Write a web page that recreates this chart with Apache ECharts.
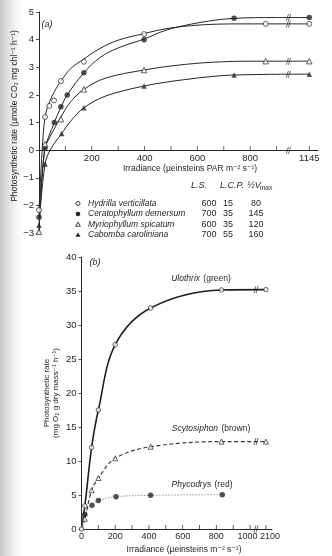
<!DOCTYPE html>
<html><head><meta charset="utf-8">
<script src="https://cdn.jsdelivr.net/npm/echarts@6/dist/echarts.min.js"></script>
<style>html,body{margin:0;padding:0;background:#fff}#c{width:332px;height:556px}</style>
</head><body><div id="c"></div><script>
const FONT = '"Liberation Sans","DejaVu Sans",Arial,sans-serif';
const INK = '#262626';

// ---------- Panel (a) data ----------
const aXTickValues = [100,200,300,400,500,600,700,800,900,1145];
const aXLabelValues = [200,400,600,800,1145];

const hydX = [0,23,39,57,83,170,398,859,1145];
const hydY = [-2.17,1.2,1.6,1.8,2.5,3.2,4.2,4.57,4.57];
const cerX = [0,23,58,83,107,170,398,739,1145];
const cerY = [-2.43,0.08,1.0,1.57,2.0,2.8,4.0,4.77,4.8];
const myrX = [0,23,83,170,398,859,1145];
const myrY = [-2.96,0.22,1.12,2.2,2.9,3.22,3.22];
const cabX = [0,23,86,170,398,739,1145];
const cabY = [-2.72,-0.5,0.6,1.53,2.32,2.72,2.75];

// fitted curves
const hydCurveX = [0,12,23,40,60,83,120,170,231,300,398,484,610,760,859,1145];
const hydCurveY = [-2.17,0,1.2,1.75,2.15,2.5,2.95,3.3,3.68,3.98,4.22,4.4,4.53,4.57,4.57,4.57];
const cerCurveX = [0,22,58,83,107,170,231,300,398,484,610,739,900,1145];
const cerCurveY = [-2.43,0,1.0,1.55,2.0,2.8,3.35,3.7,4.02,4.35,4.62,4.77,4.8,4.8];
const myrCurveX = [0,21,40,83,120,170,250,398,550,700,859,1145];
const myrCurveY = [-2.96,0,0.45,1.2,1.75,2.2,2.6,2.9,3.1,3.2,3.22,3.22];
const cabCurveX = [0,23,45,86,120,170,250,398,550,739,1145];
const cabCurveY = [-2.72,-0.5,0.05,0.6,1.05,1.53,1.95,2.32,2.55,2.72,2.75];

const aBreakYs = [4.57,4.8,3.22,2.75];

// legend table
const species = ['Hydrilla verticillata','Ceratophyllum demersum','Myriophyllum spicatum','Cabomba caroliniana'];
const tableLS = [600,700,600,700];
const tableLCP = [15,35,35,55];
const tableVmax = [80,145,120,160];

// ---------- Panel (b) data ----------
const bXTickValues = [100,200,300,400,500,600,700,800,900,1000,2100];
const bXLabelValues = [0,200,400,600,800,1000,2100];
const bX = [0,20,60,100,200,410,830,2100];
const ulothrixY = [0,3.4,12,17.5,27.1,32.5,35.15,35.2];
const scytoY = [0,1.5,5.7,7.5,10.4,12.1,12.85,12.85];
const phycoX = [0,20,62,100,205,410,835];
const phycoY = [0,2.15,3.5,4.2,4.75,4.95,5.05];
const bBreakYs = [35.2,12.85];

// ---------- axis breaks (display transforms) ----------
const aBrk = {at:950, k:74/195};
const bBrk = {at:1030, k:64/1070};
const fwd = (b,x) => x <= b.at ? x : b.at + (x - b.at) * b.k;
const pts = (b,xs,ys) => xs.map((x,i)=>[fwd(b,x), ys[i]]);

const openStyle = {color:'#fff', borderColor:INK, borderWidth:0.9};
const fillStyle = {color:INK, borderColor:INK, borderWidth:0};
const minus = v => v < 0 ? '\u2212' + Math.abs(v) : String(v);
const slash = 'path://M0,10 L3,0 L4.2,0 L1.2,10 Z M3,10 L6,0 L7.2,0 L4.2,10 Z';

function curve(xs, ys, b, lineStyle, xi, yi) {
  return {type:'line', xAxisIndex:xi, yAxisIndex:yi, data:pts(b,xs,ys), smooth:0.35,
    showSymbol:false, silent:true, lineStyle:Object.assign({color:INK,width:1}, lineStyle), z:2};
}
function points(xs, ys, b, symbol, size, style, xi, yi) {
  return {type:'scatter', xAxisIndex:xi, yAxisIndex:yi, data:pts(b,xs,ys), symbol, symbolSize:size,
    itemStyle:style, silent:true, z:5};
}
// x-axis ticks, drawn on the zero line pointing up
function tickSeries(vals, b, xi, yi) {
  return {type:'scatter', xAxisIndex:xi, yAxisIndex:yi, silent:true, symbol:'rect',
    symbolSize:[0.9,4], symbolOffset:[0,-2], itemStyle:{color:INK}, z:4,
    data:vals.map(v=>[fwd(b,v),0])};
}

const txt = (x,y,text,opt={}) => ({type:'text', x, y, rotation:opt.rot||0, silent:true,
  style:Object.assign({text, font:(opt.italic?'italic ':'') + (opt.size||9)+'px '+FONT, fill:INK,
    align:opt.align||'center', verticalAlign:'middle'}, opt.style||{})});
function label2(cx, y, it, rm) {
  return {type:'text', x:cx, y, silent:true, style:{
    text:'{i|'+it+'} {r|'+rm+'}', align:'center', verticalAlign:'middle',
    rich:{i:{font:'italic 8.5px '+FONT, fill:INK}, r:{font:'8.5px '+FONT, fill:INK}}}};
}

const graphic = [
  {type:'rect', shape:{x:0,y:0,width:26,height:556}, silent:true, z:-10,
   style:{fill:new echarts.graphic.LinearGradient(0,0,1,0,[{offset:0,color:'rgba(185,185,185,0.85)'},{offset:0.5,color:'rgba(215,215,215,0.45)'},{offset:1,color:'rgba(255,255,255,0)'}])}},
  txt(47,24,'(a)',{italic:true,size:9}),
  txt(190,169,'Irradiance (\u00b5einsteins PAR m\u207b\u00b2 s\u207b\u00b9)',{size:8.5}),
  txt(15,116,'Photosynthetic rate (\u00b5mole CO\u2082 mg chl\u207b\u00b9 h\u207b\u00b9)',{size:8.5,rot:Math.PI/2}),
  txt(199,185,'L.S.',{italic:true,size:9}),
  txt(232,185,'L.C.P.',{italic:true,size:9}),
  txt(254,185,'\u00bdV',{italic:true,size:9}),
  txt(266,188,'max',{italic:true,size:6.5}),
  txt(95,262,'(b)',{italic:true,size:9}),
  txt(184,550,'Irradiance (\u00b5einsteins m\u207b\u00b2 s\u207b\u00b9)',{size:8.5}),
  txt(51,393,'Photosynthetic rate\n(mg O\u2082 g dry mass\u207b\u00b9 h\u207b\u00b9)',{size:8,rot:Math.PI/2,style:{lineHeight:9}}),
  label2(201,279,'Ulothrix','(green)'),
  label2(211,429,'Scytosiphon','(brown)'),
  label2(202,485,'Phycodrys','(red)')
];

const rowY = [203.5,214,224.5,235];
const keyShapes = [
  {type:'circle', shape:{cx:0,cy:0,r:2}, style:{fill:'#fff',stroke:INK,lineWidth:0.9}},
  {type:'circle', shape:{cx:0,cy:0,r:2.3}, style:{fill:INK}},
  {type:'polygon', shape:{points:[[0,-2.4],[2.3,1.7],[-2.3,1.7]]}, style:{fill:'#fff',stroke:INK,lineWidth:0.9}},
  {type:'polygon', shape:{points:[[0,-2.6],[2.5,1.8],[-2.5,1.8]]}, style:{fill:INK}}
];
species.forEach((s,i)=>{
  graphic.push(Object.assign({x:78,y:rowY[i],silent:true}, keyShapes[i]));
  graphic.push(txt(88,rowY[i],s,{italic:true,size:8.5,align:'left'}));
  graphic.push(txt(209,rowY[i],String(tableLS[i]),{size:9}));
  graphic.push(txt(228,rowY[i],String(tableLCP[i]),{size:9}));
  graphic.push(txt(256,rowY[i],String(tableVmax[i]),{size:9}));
});

const axisTxt = {color:INK, fontSize:9.5, fontFamily:FONT};

const option = {
  animation:false,
  backgroundColor:'#fff',
  grid:[
    {left:39, right:14, top:12, bottom:323, containLabel:false},
    {left:81.5, right:60, top:257, bottom:27, containLabel:false}
  ],
  xAxis:[
    {gridIndex:0, type:'value', min:0, max:1057,
     axisLine:{onZero:true, lineStyle:{color:INK,width:1}},
     axisTick:{show:false}, axisLabel:{show:false}, splitLine:{show:false}},
    {gridIndex:1, type:'value', min:0, max:1130,
     axisLine:{onZero:true, lineStyle:{color:INK,width:1}},
     axisTick:{show:false}, axisLabel:{show:false}, splitLine:{show:false}}
  ],
  yAxis:[
    {gridIndex:0, type:'value', min:-3, max:5, interval:1,
     axisLine:{show:true, onZero:false, lineStyle:{color:INK,width:1}},
     axisTick:{show:true, length:3, lineStyle:{color:INK,width:0.8}},
     axisLabel:Object.assign({margin:5, formatter:minus}, axisTxt),
     splitLine:{show:false}},
    {gridIndex:1, type:'value', min:0, max:40, interval:5,
     axisLine:{show:true, onZero:false, lineStyle:{color:INK,width:1}},
     axisTick:{show:true, length:3, lineStyle:{color:INK,width:0.8}},
     axisLabel:Object.assign({margin:5}, axisTxt),
     splitLine:{show:false}}
  ],
  series:[
    curve(hydCurveX,hydCurveY,aBrk,{},0,0),
    curve(cerCurveX,cerCurveY,aBrk,{},0,0),
    curve(myrCurveX,myrCurveY,aBrk,{},0,0),
    curve(cabCurveX,cabCurveY,aBrk,{},0,0),
    points(hydX,hydY,aBrk,'circle',5,openStyle,0,0),
    points(cerX,cerY,aBrk,'circle',5.5,fillStyle,0,0),
    points(myrX,myrY,aBrk,'triangle',5.5,openStyle,0,0),
    points(cabX,cabY,aBrk,'triangle',5.5,fillStyle,0,0),
    tickSeries(aXTickValues,aBrk,0,0),
    {type:'scatter', xAxisIndex:0, yAxisIndex:0, silent:true, symbol:slash, symbolSize:[5,7], z:6,
     itemStyle:{color:INK}, data:[[945,0]].concat(aBreakYs.map(y=>[945,y]))},
    curve(bX,ulothrixY,bBrk,{width:1.6,color:'#1e1e1e'},1,1),
    curve(bX,scytoY,bBrk,{width:1.2,type:[4,2.5],color:'#3a3a3a'},1,1),
    curve(phycoX,phycoY,bBrk,{width:1,type:[1.5,1.5],color:'#9a9a9a'},1,1),
    points(bX,ulothrixY,bBrk,'circle',4.5,openStyle,1,1),
    points(bX.slice(1),scytoY.slice(1),bBrk,'triangle',5,openStyle,1,1),
    points(phycoX.slice(1),phycoY.slice(1),bBrk,'circle',5.5,fillStyle,1,1),
    tickSeries(bXTickValues,bBrk,1,1),
    {type:'scatter', xAxisIndex:1, yAxisIndex:1, silent:true, symbol:slash, symbolSize:[5,7], z:6,
     itemStyle:{color:INK}, data:[[1035,0]].concat(bBreakYs.map(y=>[1035,y]))}
  ],
  graphic
};
const chart = echarts.init(document.getElementById('c'), null, {renderer:'canvas'});
chart.setOption(option);

// x tick labels placed on the zero line through each axis' scale
aXLabelValues.forEach(v=>{
  const p = chart.convertToPixel({xAxisIndex:0, yAxisIndex:0}, [fwd(aBrk,v), 0]);
  graphic.push(txt(p[0], p[1] + 8.5, String(v), {size:9.5}));
});
const bLabelNudge = {1000:-2.5, 2100:4};
bXLabelValues.forEach(v=>{
  const p = chart.convertToPixel({xAxisIndex:1, yAxisIndex:1}, [fwd(bBrk,v), 0]);
  graphic.push(txt(p[0] + (bLabelNudge[v]||0), p[1] + 8, String(v), {size:9}));
});
chart.setOption({graphic});
</script></body></html>
